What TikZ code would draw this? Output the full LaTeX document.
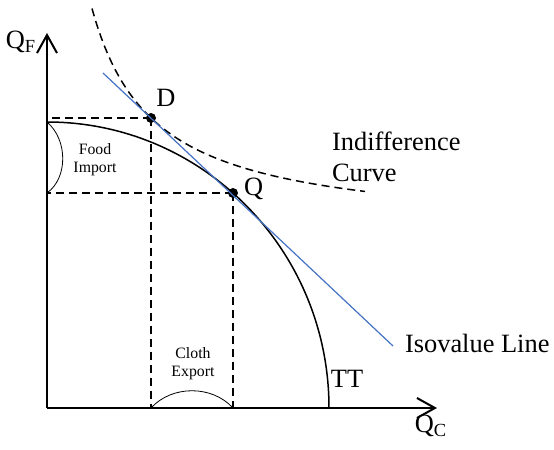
\documentclass[tikz,border=0pt]{standalone}
\usepackage{fontspec}
\setmainfont{Liberation Serif}
\usetikzlibrary{arrows.meta}
\definecolor{isoblue}{RGB}{68,114,196}

\begin{document}
\begin{tikzpicture}[x=0.5pt,y=0.5pt,
    axis/.style={line width=1pt,-{Straight Barb[length=9pt,width=10pt]}},
    frontier/.style={line width=0.75pt},
    guide/.style={dashed,line width=0.75pt,dash pattern=on 4pt off 2.5pt},
    brace/.style={line width=0.4pt},
    dot/.style={circle,fill,inner sep=0pt,minimum size=5pt},
    biglabel/.style={font=\fontsize{13.2}{15.5}\selectfont},
    smalllabel/.style={font=\fontsize{7.9}{9}\selectfont,align=center}]
    \useasboundingbox (0,0) rectangle (554,450);
    % axes
    \coordinate (O) at (47,42);
    \coordinate (ytip) at (47,417);
    \coordinate (xtip) at (437,42);
    \draw[axis] (O) -- (ytip);
    \draw[axis] (O) -- (xtip);
    \node[biglabel] (QF) at (21,408) {Q\textsubscript{F}};
    \node[biglabel] (QC) at (431,24) {Q\textsubscript{C}};
    % points
    \node[dot] (D) at (151,332) {};
    \node[dot] (Q) at (233,257) {};
    \node[biglabel] (Dlab) at (166,352) {D};
    \node[biglabel,anchor=west] (Qlab) at (237,261) {Q};
    % guide lines
    \draw[guide] (D.center) -- (D.center -| O);
    \draw[guide] (D.center) -- (D.center |- O);
    \draw[guide] (Q.center) -- (Q.center -| O);
    \draw[guide] (Q.center) -- (Q.center |- O);
    % transformation curve
    \coordinate (TTtop) at (47,328);
    \draw[frontier] (TTtop) arc[start angle=90,end angle=0,x radius=282,y radius=286];
    \node[biglabel] (TT) at (347,71) {TT};
    % indifference curve
    \draw[guide] plot[domain=92:365,samples=90] (\x,{217+13915/(\x-30)});
    \node[biglabel,align=left,anchor=west] (IC) at (325,293) {Indifference\\Curve};
    % isovalue line
    \coordinate (iso1) at (103,377);
    \coordinate (iso2) at (393,104);
    \draw[isoblue,line width=0.6pt] (iso1) -- (iso2);
    \node[biglabel,anchor=west] (iso) at (398,107) {Isovalue Line};
    % import and export
    \draw[brace] (TTtop) .. controls (68,310) and (68,272) .. (Q.center -| O);
    \node[smalllabel] (imp) at (95,290) {Food\\Import};
    \draw[brace] (D.center |- O) .. controls (172,65) and (212,65) .. (Q.center |- O);
    \node[smalllabel] (exp) at (193,86) {Cloth\\Export};
\end{tikzpicture}
\end{document}
